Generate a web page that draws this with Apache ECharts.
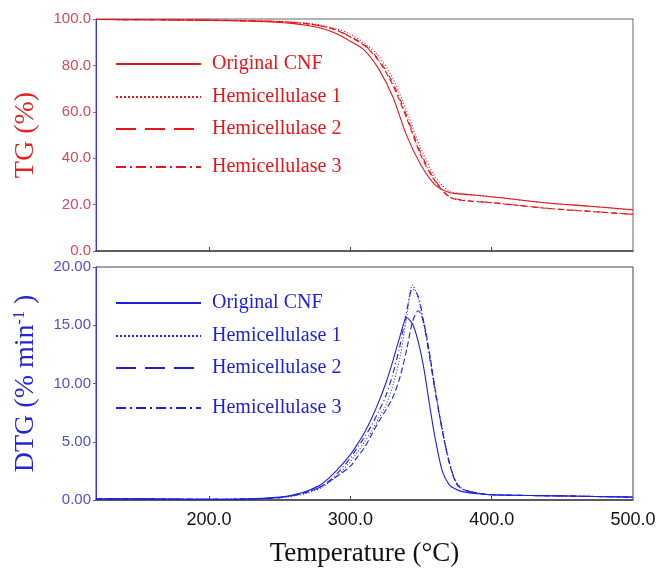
<!DOCTYPE html>
<html><head><meta charset="utf-8">
<script src="https://cdn.jsdelivr.net/npm/echarts@6/dist/echarts.min.js"></script>
<style>html,body{margin:0;padding:0;background:#fff}#c{width:659px;height:571px}</style>
</head><body><div id="c"></div>
<script>
const seriesNames = ['Original CNF','Hemicellulase 1','Hemicellulase 2','Hemicellulase 3'];
const xTickValues = [200,300,400,500];

const tempsTG = [120,150,200,230,250,260,270,280,290,300,310,320,330,340,350,360,370,380,400,440,470,500];
const origTG = [99.8,99.7,99.4,99.0,98.5,98.0,97.2,95.9,93.8,90.4,86.5,78.5,66.5,49.5,37.0,28.5,25.2,24.5,23.4,20.7,19.3,17.8];
const h1TG   = [99.8,99.7,99.6,99.3,99.0,98.7,98.2,97.3,95.8,93.5,89.5,84.0,74.5,60.0,44.0,32.0,25.8,24.6,23.3,20.6,19.2,17.6];
const h2TG   = [99.8,99.7,99.5,99.2,98.9,98.5,97.9,96.9,95.2,92.2,88.5,82.0,71.5,57.0,41.0,30.0,23.3,21.8,20.8,18.3,17.0,15.8];
const h3TG   = [99.8,99.7,99.5,99.2,98.9,98.5,97.9,96.9,95.3,92.5,88.8,82.5,72.5,58.0,42.0,30.5,23.5,21.9,20.9,18.4,17.1,15.8];

const tempsDTG = [120,150,200,230,250,260,270,280,290,300,305,310,315,320,325,330,335,340,344,348,352,356,360,365,370,375,380,390,400,450,500];
const origDTG = [0.1,0.1,0.05,0.1,0.25,0.45,0.8,1.4,2.5,3.9,4.8,5.8,7.0,8.4,10.0,11.9,14.0,15.65,15.1,13.6,11.3,8.2,5.3,2.5,1.3,0.9,0.7,0.55,0.45,0.35,0.25];
const h1DTG   = [0.1,0.1,0.05,0.1,0.2,0.35,0.6,1.1,2.0,3.3,4.1,5.0,5.9,7.0,8.1,9.8,12.2,15.8,18.45,17.3,15.0,12.5,9.5,6.2,3.3,1.5,0.9,0.6,0.45,0.35,0.25];
const h2DTG   = [0.1,0.1,0.05,0.1,0.2,0.4,0.7,1.2,2.0,2.9,3.7,4.5,5.6,6.7,7.7,8.8,10.5,13.0,15.3,16.25,15.2,12.6,9.5,6.0,3.2,1.4,0.9,0.6,0.45,0.35,0.25];
const h3DTG   = [0.1,0.1,0.05,0.1,0.2,0.4,0.7,1.2,2.2,3.6,4.5,5.4,6.4,7.6,8.9,10.8,13.2,16.3,18.1,17.5,15.2,12.3,9.3,6.0,3.2,1.5,0.9,0.6,0.45,0.35,0.25];

const RED = '#e8141b', BLUE = '#1e1ee0';
const seriesDash = ['solid',[1,2],[6,3],[6,3,1,3]];
const legendDash = ['solid',[2,2],[20,9],[10,4,2,4]];
const tgSets = [origTG,h1TG,h2TG,h3TG];
const dtgSets = [origDTG,h1DTG,h2DTG,h3DTG];
function pairs(xs, ys){ return xs.map((x,i)=>[x,ys[i]]); }

const series = [];
seriesNames.forEach((n,i)=>{
  series.push({name:n,type:'line',xAxisIndex:0,yAxisIndex:0,data:pairs(tempsTG,tgSets[i]),
    symbol:'none',showSymbol:false,smooth:0.3,animation:false,
    lineStyle:{color:RED,width:1.1,type:seriesDash[i]},itemStyle:{color:RED}});
});
seriesNames.forEach((n,i)=>{
  series.push({name:'DTG:'+n,type:'line',xAxisIndex:1,yAxisIndex:1,data:pairs(tempsDTG,dtgSets[i]),
    symbol:'none',showSymbol:false,smooth:0.3,animation:false,
    lineStyle:{color:BLUE,width:1.1,type:seriesDash[i]},itemStyle:{color:BLUE}});
});

const legTopTG = [54,87,119,157];
const legTopDTG = [293,326,358,398];
const legends = [];
seriesNames.forEach((n,i)=>{
  legends.push({data:[n],left:115,top:legTopTG[i],padding:0,itemWidth:85,itemHeight:14,selectedMode:false,
    lineStyle:{width:2,type:legendDash[i]},
    itemStyle:{opacity:0,color:'rgba(0,0,0,0)',borderWidth:0},
    textStyle:{fontFamily:'Liberation Serif',fontSize:20,color:RED,padding:[0,0,0,6]}});
  legends.push({data:['DTG:'+n],left:115,top:legTopDTG[i],padding:0,itemWidth:85,itemHeight:14,selectedMode:false,
    lineStyle:{width:2,type:legendDash[i]},
    itemStyle:{opacity:0,color:'rgba(0,0,0,0)',borderWidth:0},
    formatter:(s)=>s.replace('DTG:',''),
    textStyle:{fontFamily:'Liberation Serif',fontSize:20,color:BLUE,padding:[0,0,0,6]}});
});

const option = {
  backgroundColor:'#fff',
  animation:false,
  grid:[
    {left:96,right:26,top:19,height:232,show:true,borderColor:'#666',borderWidth:1},
    {left:96,right:26,top:267,height:233,show:true,borderColor:'#444',borderWidth:1}
  ],
  legend:legends,
  xAxis:[
    {gridIndex:0,type:'value',min:120,max:500,
      axisLine:{show:true,lineStyle:{color:'#444',width:1.5}},
      axisTick:{show:true,inside:true,length:4,customValues:[200,300,400],lineStyle:{color:'#444'}},
      axisLabel:{show:false},splitLine:{show:false}},
    {gridIndex:1,type:'value',min:120,max:500,
      name:'Temperature (°C)',nameLocation:'middle',nameGap:40,
      nameTextStyle:{fontFamily:'Liberation Serif',fontSize:27,color:'#111'},
      axisLine:{show:true,lineStyle:{color:'#444',width:1.5}},
      axisTick:{show:true,inside:true,length:4,customValues:[200,300,400],lineStyle:{color:'#444'}},
      axisLabel:{show:true,customValues:xTickValues,formatter:(v)=>v.toFixed(1),margin:11,
        fontFamily:'Liberation Sans',fontSize:18,color:'#111'},
      splitLine:{show:false}}
  ],
  yAxis:[
    {gridIndex:0,type:'value',min:0,max:100,interval:20,
      name:'TG (%)',nameLocation:'middle',nameGap:56,nameRotate:90,
      nameTextStyle:{fontFamily:'Liberation Serif',fontSize:28,color:'#e82020'},
      axisLine:{show:true,lineStyle:{color:'#3a3ad0',width:1}},
      axisTick:{show:true,length:3,lineStyle:{color:'#d04a5a'}},
      axisLabel:{formatter:(v)=>v.toFixed(1),margin:5,fontFamily:'Liberation Sans',fontSize:15,color:'#d8475a'},
      splitLine:{show:false}},
    {gridIndex:1,type:'value',min:0,max:20,interval:5,
      name:'{a|DTG (% min}{s|-1}{a| )}',nameLocation:'middle',nameGap:56,nameRotate:90,
      nameTextStyle:{rich:{
        a:{fontFamily:'Liberation Serif',fontSize:28,color:'#2424d8'},
        s:{fontFamily:'Liberation Serif',fontSize:16,color:'#2424d8',verticalAlign:'top'}
      }},
      axisLine:{show:true,lineStyle:{color:'#3a3ad0',width:1}},
      axisTick:{show:true,length:3,lineStyle:{color:'#5555cc'}},
      axisLabel:{formatter:(v)=>v.toFixed(2),margin:5,fontFamily:'Liberation Sans',fontSize:15,color:'#5050c8'},
      splitLine:{show:false}}
  ],
  series:series
};
const chart = echarts.init(document.getElementById('c'));
chart.setOption(option);
</script>
</body></html>
